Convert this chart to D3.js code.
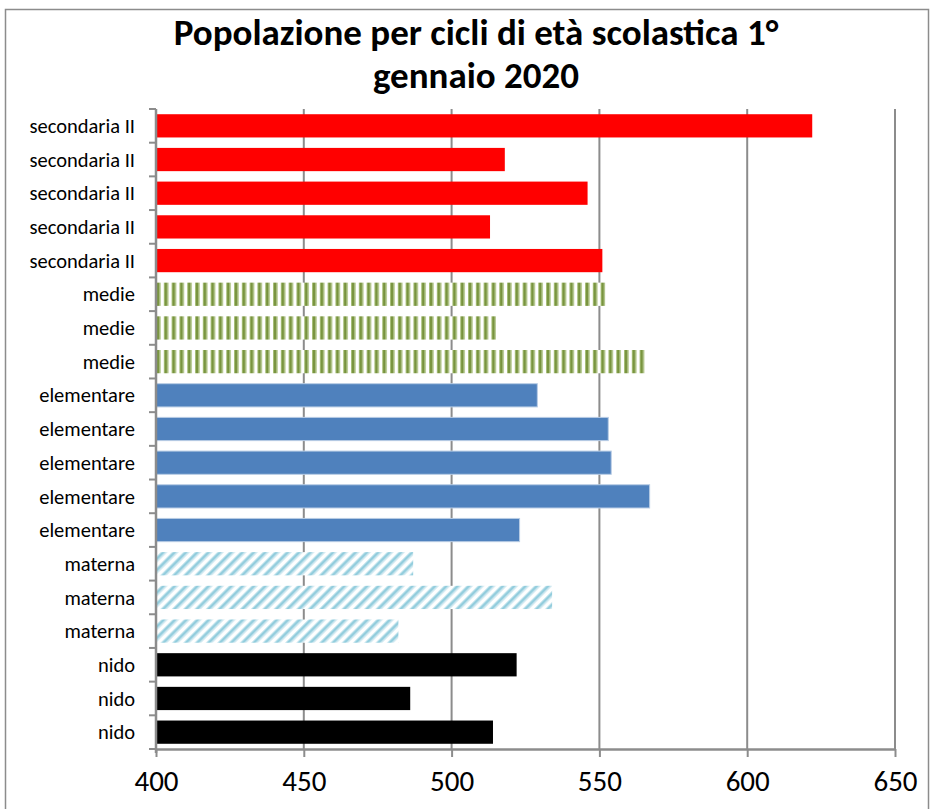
<!DOCTYPE html>
<html>
<head>
<meta charset="utf-8">
<script src="https://cdn.jsdelivr.net/npm/d3@7"></script>
<style>
  html, body { margin: 0; padding: 0; background: #fff; }
  svg { display: block; }
  text { font-family: Carlito, Lato, "Open Sans", sans-serif; }
  .xaxis .tick text { font-size: 29px; }
</style>
</head>
<body>
<svg id="chart" width="934" height="809"></svg>
<script>
// Population by school-age cycle, 1 January 2020 (top to bottom)
const categories = [
  "secondaria II", "secondaria II", "secondaria II", "secondaria II", "secondaria II",
  "medie", "medie", "medie",
  "elementare", "elementare", "elementare", "elementare", "elementare",
  "materna", "materna", "materna",
  "nido", "nido", "nido"
];
const values = [
  622, 518, 546, 513, 551,
  552, 515, 566,
  529, 553, 554, 567, 523,
  487, 534, 482,
  522, 486, 514
];
const xTicks = [400, 450, 500, 550, 600, 650];
const titleLines = ["Popolazione per cicli di età scolastica 1°", "gennaio 2020"];

const svg = d3.select("#chart");
const margin = { top: 109, left: 156, right: 895, bottom: 749 };

// Patterns for the striped groups
const defs = svg.append("defs");
const pg = defs.append("pattern")
  .attr("id", "medie").attr("patternUnits", "userSpaceOnUse")
  .attr("width", 7.8).attr("height", 10);
pg.append("rect").attr("width", 7.8).attr("height", 10).attr("fill", "#fff");
pg.append("rect").attr("x", 0).attr("width", 1).attr("height", 10).attr("fill", "#a7be78");
pg.append("rect").attr("x", 1).attr("width", 2.6).attr("height", 10).attr("fill", "#77933c");
pg.append("rect").attr("x", 3.6).attr("width", 1).attr("height", 10).attr("fill", "#a7be78");

const pm = defs.append("pattern")
  .attr("id", "materna").attr("patternUnits", "userSpaceOnUse")
  .attr("width", 8).attr("height", 8)
  .attr("patternTransform", "rotate(45)");
pm.append("rect").attr("width", 8).attr("height", 8).attr("fill", "#fff");
pm.append("rect").attr("x", 0).attr("width", 1).attr("height", 8).attr("fill", "#c4e4ed");
pm.append("rect").attr("x", 1).attr("width", 2.6).attr("height", 8).attr("fill", "#93cddd");
pm.append("rect").attr("x", 3.6).attr("width", 1).attr("height", 8).attr("fill", "#c4e4ed");

const fills = {
  "secondaria II": "#ff0000",
  "medie": "url(#medie)",
  "elementare": "#4f81bd",
  "materna": "url(#materna)",
  "nido": "#000000"
};

// Outer frame
svg.append("rect")
  .attr("x", 5.5).attr("y", 9.5).attr("width", 923).attr("height", 820)
  .attr("fill", "none").attr("stroke", "#8c8c8c").attr("stroke-width", 1.5);

// Title
svg.append("g").selectAll("text").data(titleLines).join("text")
  .attr("x", 476).attr("y", (d, i) => 45 + i * 43)
  .attr("text-anchor", "middle")
  .attr("font-size", 37).attr("font-weight", "bold").attr("fill", "#000")
  .text(d => d);

// Scales
const x = d3.scaleLinear().domain([400, 650]).range([margin.left, margin.right]);
const y = d3.scaleBand().domain(d3.range(categories.length))
  .range([margin.top, margin.bottom]).paddingInner(0.31).paddingOuter(0.155);

// Vertical gridlines
svg.append("g").selectAll("line").data(xTicks.slice(1)).join("line")
  .attr("x1", d => x(d)).attr("x2", d => x(d))
  .attr("y1", margin.top).attr("y2", margin.bottom)
  .attr("stroke", "#8c8c8c").attr("stroke-width", 2);

// Bars
svg.append("g").selectAll("rect").data(values).join("rect")
  .attr("x", x(400))
  .attr("y", (d, i) => y(i))
  .attr("width", d => x(d) - x(400))
  .attr("height", y.bandwidth())
  .attr("fill", (d, i) => fills[categories[i]])
  .attr("stroke", (d, i) => categories[i] === "elementare" ? "#b9cde5" : "none")
  .attr("stroke-width", 1);

// X axis
const xAxis = svg.append("g")
  .attr("class", "xaxis")
  .attr("transform", `translate(0,${margin.bottom})`)
  .call(d3.axisBottom(x).tickValues(xTicks).tickSize(8).tickPadding(13).tickSizeOuter(0));
xAxis.attr("font-size", 29).attr("font-family", null);
xAxis.select(".domain").attr("stroke", "#8c8c8c").attr("stroke-width", 2.5);
xAxis.selectAll(".tick line").attr("stroke", "#8c8c8c").attr("stroke-width", 2);
xAxis.selectAll(".tick text").attr("font-size", 29).attr("fill", "#000");

// Y axis: line with ticks between categories, labels centred on bars
const yAxis = svg.append("g");
yAxis.append("line")
  .attr("x1", x(400)).attr("x2", x(400))
  .attr("y1", margin.top).attr("y2", margin.bottom + 4)
  .attr("stroke", "#8c8c8c").attr("stroke-width", 2.5);
const step = y.step();
yAxis.selectAll("line.tk").data(d3.range(categories.length + 1)).join("line")
  .attr("class", "tk")
  .attr("x1", x(400) - 7).attr("x2", x(400))
  .attr("y1", i => margin.top + i * step).attr("y2", i => margin.top + i * step)
  .attr("stroke", "#8c8c8c").attr("stroke-width", 2);
yAxis.selectAll("text").data(categories).join("text")
  .attr("x", 135)
  .attr("y", (d, i) => y(i) + y.bandwidth() / 2)
  .attr("dy", "0.35em")
  .attr("text-anchor", "end")
  .attr("font-size", 20.5).attr("fill", "#000")
  .text(d => d);
</script>
</body>
</html>
